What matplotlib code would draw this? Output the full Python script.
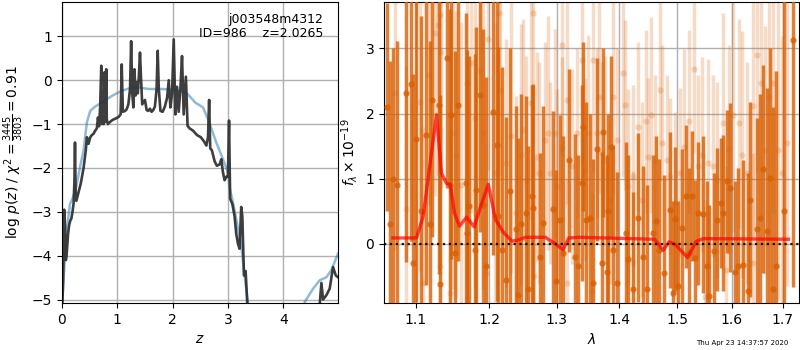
import numpy as np
import matplotlib
matplotlib.use("Agg")
import matplotlib.pyplot as plt
from matplotlib.ticker import FixedLocator, FormatStrFormatter, NullLocator

# ---------------- left panel: p(z) ----------------
z_pz = [0.00, 0.02, 0.04, 0.055, 0.07, 0.085, 0.11, 0.13, 0.15, 0.17,
        0.19, 0.21, 0.225, 0.235, 0.245, 0.26, 0.28, 0.31, 0.34, 0.39,
        0.43, 0.45, 0.48, 0.51, 0.54, 0.57, 0.60, 0.63, 0.65, 0.67,
        0.69, 0.71, 0.725, 0.74, 0.755, 0.77, 0.785, 0.80, 0.81, 0.83,
        0.87, 0.92, 0.96, 1.02, 1.06, 1.08, 1.10, 1.14, 1.17, 1.20,
        1.23, 1.25, 1.27, 1.29, 1.31, 1.33, 1.35, 1.37, 1.39, 1.41,
        1.43, 1.45, 1.50, 1.53, 1.56, 1.59, 1.62, 1.65, 1.68, 1.71,
        1.73, 1.75, 1.78, 1.82, 1.86, 1.90, 1.93, 1.96, 1.99, 2.02,
        2.05, 2.08, 2.11, 2.14, 2.17, 2.20, 2.24, 2.27, 2.31, 2.37,
        2.44, 2.51, 2.57, 2.61, 2.64, 2.66, 2.68, 2.71, 2.76, 2.80,
        2.85, 2.88, 2.91, 2.94, 2.97, 3.00, 3.02, 3.04, 3.08, 3.12,
        3.15, 3.18, 3.21, 3.24, 3.26, 3.29, 3.32, 3.35, 3.40, 3.60,
        4.00, 4.40, 4.60, 4.66, 4.69, 4.72, 4.75, 4.78, 4.84, 4.90,
        4.95, 4.99]
logp = [-5.3, -4.6, -2.95, -3.3, -4.1, -3.95, -3.5, -3.3, -3.2, -3.15,
        -3.0, -2.8, -2.3, -1.42, -2.5, -2.75, -2.65, -2.5, -2.35, -2.0,
        -1.6, -1.3, -1.45, -1.3, -1.25, -1.22, -1.15, -1.1, -0.85, -1.05,
        -0.6, 0.33, -1.0, -0.5, -1.0, 0.18, -0.95, 0.25, -0.9, -1.0,
        -0.95, -0.9, -0.88, -0.84, -0.78, 0.36, -0.72, -0.7, -0.66, -0.55,
        -0.2, 0.89, -0.3, -0.62, 0.25, -0.35, -0.05, -0.3, 0.1, 0.63,
        0.0, -0.55, -0.45, -0.68, -0.7, -0.65, -0.72, -0.68, -0.6, -0.2,
        0.67, -0.2, -0.7, -0.72, -0.6, -0.4, 0.0, -0.62, -0.3, 0.93,
        -0.78, -0.15, -0.72, -0.2, 0.55, -0.78, 0.08, -1.04, -1.1, -1.15,
        -1.25, -1.3, -1.4, -1.49, -1.3, -0.45, -1.55, -1.6, -1.85, -1.95,
        -1.92, -1.8, -2.1, -2.28, -2.2, -2.2, -0.92, -2.7, -2.82, -3.1,
        -3.5, -3.72, -3.84, -2.89, -3.1, -4.45, -4.35, -5.1, -6.0, -8.0,
        -9.0, -7.5, -5.6, -5.1, -4.62, -5.0, -4.95, -4.9, -4.75, -4.26,
        -4.45, -4.49]

z_chi = [0.0, 0.024, 0.084, 0.144, 0.19, 0.25, 0.33, 0.39, 0.45, 0.51,
         0.60, 0.72, 0.90, 1.08, 1.26, 1.41, 1.56, 1.80, 2.05, 2.26,
         2.41, 2.55, 2.64, 2.79, 2.91, 3.00, 3.03, 3.09, 3.15, 3.24,
         3.30, 3.36, 3.5, 3.9, 4.2, 4.39, 4.54, 4.66, 4.78, 4.87, 4.99]
chi_scaled = [-5.2, -4.6, -3.46, -2.82, -2.7, -2.48, -1.95, -1.6, -0.96, -0.7,
              -0.6, -0.51, -0.36, -0.24, -0.17, -0.17, -0.2, -0.2, -0.22, -0.3,
              -0.51, -0.62, -0.89, -1.42, -1.8, -2.1, -2.45, -2.78, -3.16, -3.77,
              -4.45, -5.05, -6.0, -7.0, -6.2, -5.05, -4.75, -4.56, -4.49, -4.33,
              -3.95]

# ---------------- right panel: spectrum ----------------
lam_a = [1.0625, 1.0665, 1.0705,
         1.0759, 1.0870, 1.0944, 1.0965, 1.1009, 1.1074, 1.1140, 1.1184, 1.1220, 1.1309,
         1.1318, 1.1416, 1.1453, 1.1475, 1.1521, 1.1567, 1.1681, 1.1691, 1.1718, 1.1797,
         1.1821, 1.1868, 1.1915, 1.1952, 1.2057, 1.2114, 1.2129, 1.2191, 1.2239, 1.2297,
         1.2385, 1.2420, 1.2469, 1.2543, 1.2568, 1.2618, 1.2643, 1.2743, 1.2793, 1.2946,
         1.2997, 1.3059, 1.3101, 1.3189, 1.3283, 1.3336, 1.3389, 1.3415, 1.3458, 1.3532,
         1.3575, 1.3640, 1.3710, 1.3737, 1.3792, 1.3824, 1.3863, 1.3901, 1.3967, 1.4112,
         1.4151, 1.4235, 1.4308, 1.4405, 1.4462, 1.4565, 1.4623, 1.4669, 1.4768, 1.4868,
         1.4915, 1.4962, 1.5015, 1.5075, 1.5153, 1.5213, 1.5267, 1.5315, 1.5376, 1.5455,
         1.5529, 1.5578, 1.5664, 1.5727, 1.5789, 1.5839, 1.5902, 1.5965, 1.6060, 1.6124,
         1.6220, 1.6316, 1.6348, 1.6478, 1.6543, 1.6596, 1.6675, 1.6741, 1.6807, 1.6860,
         1.7021, 1.7197]
flux_a = [2.1, 0.3, 1.0,
          0.91, 2.32, 2.45, -0.29, 1.61, 0.5, 1.67, 0.31, 2.2, 2.13,
          -0.62, 2.85, 0.91, 1.97, -0.14, 2.13, 0.94, 0.17, 0.58, -0.09,
          0.83, 2.28, 0.6, -0.34, 2.03, 1.52, 0.42, -0.09, -0.55, 0.81,
          0.22, -0.78, 0.3, 0.47, -0.7, 0.73, 0.55, -0.21, 0.32, 0.54,
          -0.57, 0.37, -0.14, 1.28, -0.21, -0.34, 0.93, 1.8, 0.37, 0.4,
          -0.6, 1.45, -0.29, 1.71, -0.44, 0.5, 1.49, -0.09, -0.6, 0.17,
          -0.24, -0.7, 0.4, -0.21, -0.7, 0.17, 0.35, -0.1, -0.45, 0.52,
          -0.75, 0.38, -0.65, 0.25, 0.73, -0.14, 0.73, -0.22, 0.47, 0.45,
          -0.34, -0.8, -0.11, 0.37, 0.63, 0.47, 0.96, 0.86, -0.44, -0.34,
          -0.32, -0.72, 0.68, 0.23, 0.4, 1.15, 0.19, 1.01, -0.7, -0.34,
          0.5, 3.13]
err_a = [1.6, 2.5, 2.0,
         2.2, 2.6, 2.4, 2.9, 2.5, 3.0, 2.3, 2.8, 2.1, 2.6,
         2.9, 2.0, 2.7, 2.2, 3.1, 2.4, 2.6, 2.8, 2.3, 3.0,
         2.5, 2.1, 2.7, 2.9, 2.2, 2.4, 2.6, 2.8, 2.5, 2.2,
         1.9, 2.4, 2.0, 1.8, 2.2, 1.7, 1.9, 1.6, 1.8, 1.5,
         1.7, 1.6, 1.8, 1.4, 1.9, 1.7, 1.5, 1.3, 1.8, 1.6,
         1.9, 1.4, 1.7, 1.3, 1.8, 1.5, 1.4, 1.6, 1.7, 1.4,
         1.6, 1.5, 1.3, 1.4, 1.6, 1.2, 1.3, 1.4, 1.5, 1.2,
         1.4, 1.1, 1.3, 1.2, 1.1, 1.3, 1.0, 1.2, 1.1, 1.2,
         1.3, 1.4, 1.2, 1.1, 1.0, 1.2, 1.1, 1.3, 1.4, 1.5,
         1.6, 1.8, 1.5, 1.7, 1.9, 1.6, 2.2, 2.0, 2.8, 3.0,
         3.5, 3.8]

lam_b = [1.0729, 1.0879, 1.1052, 1.1175, 1.1251, 1.1295, 1.1318, 1.1340, 1.1498, 1.1544,
         1.1612, 1.1691, 1.1751, 1.1797, 1.1868, 1.1915, 1.1986, 1.2081, 1.2143, 1.2162,
         1.2239, 1.2322, 1.2395, 1.2469, 1.2494, 1.2543, 1.2603, 1.2643, 1.2693, 1.2733,
         1.2819, 1.2870, 1.2905, 1.2972, 1.3008, 1.3075, 1.3090, 1.3153, 1.3231, 1.3310,
         1.3389, 1.3442, 1.3495, 1.3575, 1.3629, 1.3667, 1.3710, 1.3765, 1.3846, 1.3890,
         1.3967, 1.4067, 1.4095, 1.4151, 1.4235, 1.4308, 1.4377, 1.4445, 1.4491, 1.4531,
         1.4606, 1.4693, 1.4727, 1.4809, 1.4868, 1.4957, 1.5045, 1.5123, 1.5213, 1.5303,
         1.5376, 1.5437, 1.5560, 1.5640, 1.5727, 1.5839, 1.5952, 1.6028, 1.6143, 1.6194,
         1.6284, 1.6400, 1.6478, 1.6556, 1.6648, 1.6728, 1.6807, 1.6907, 1.6974, 1.7075,
         1.1095, 1.1319, 1.1450, 1.1960, 1.2660, 1.3160, 1.3560, 1.4230, 1.5500, 1.5900,
         1.6400]
flux_b = [2.31, 0.53, 2.18, 2.59, 3.23, 3.36, 3.51, 2.95, 1.70, 1.37,
          0.91, 2.47, 2.77, 1.93, 2.67, 1.70, 3.14, 1.09, 3.54, 2.36,
          1.24, 1.65, 0.47, 1.37, 1.75, 0.98, 2.16, 3.54, 1.34, 1.09,
          1.60, 1.70, 1.09, 1.70, 0.88, 3.05, 1.47, 2.21, 1.19, 1.70,
          2.82, 1.14, 1.70, 2.82, 1.70, 2.26, 1.39, 1.29, 0.68, 2.26,
          1.60, 2.62, 2.13, 0.88, 1.04, 1.80, 0.68, 1.88, 1.34, 1.98,
          1.29, 2.36, 1.55, 1.29, 1.04, 0.63, 1.09, 1.49, 1.88, 2.69,
          1.19, 1.37, 1.24, 1.19, 0.98, 1.85, 1.45, 1.98, 1.85, 1.37,
          1.09, 2.11, 2.90, 2.47, 1.44, 2.26, 2.47, 1.44, 1.09, 1.55,
          -0.60, -0.34, -0.75, -0.45, -0.50, -0.60, -0.72, -0.28, -0.82, -0.40,
          -0.30]
err_b = [2.4, 2.2, 2.6, 2.0, 2.5, 2.3, 2.7, 2.1, 2.4, 2.2,
         2.5, 2.0, 2.3, 2.6, 2.1, 2.4, 2.0, 2.3, 2.5, 2.2,
         1.9, 2.1, 1.8, 2.0, 1.7, 1.9, 1.8, 2.0, 1.6, 1.7,
         1.5, 1.8, 1.4, 1.6, 1.5, 1.7, 1.4, 1.6, 1.5, 1.3,
         1.6, 1.4, 1.5, 1.7, 1.3, 1.5, 1.4, 1.6, 1.3, 1.5,
         1.4, 1.6, 1.3, 1.5, 1.4, 1.3, 1.5, 1.4, 1.2, 1.5,
         1.3, 1.4, 1.5, 1.3, 1.2, 1.4, 1.3, 1.5, 1.4, 1.3,
         1.4, 1.5, 1.6, 1.4, 1.5, 1.7, 1.6, 1.8, 1.6, 1.9,
         1.7, 2.0, 1.8, 2.1, 1.9, 2.2, 2.0, 2.3, 2.1, 2.2,
         2.4, 2.2, 2.5, 2.0, 1.8, 1.6, 1.5, 1.4, 1.5, 1.6,
         1.7]

lam_model = [1.0706, 1.1009, 1.1096, 1.1274, 1.1339, 1.1406, 1.1459, 1.1517, 1.1585, 1.1684,
             1.1789, 1.1881, 1.1987, 1.2091, 1.2209, 1.2330, 1.2427, 1.2525, 1.2826, 1.2980,
             1.3099, 1.3189, 1.3349, 1.4601, 1.4752, 1.4854, 1.4964, 1.5183, 1.5342, 1.5472,
             1.7113]
flux_model = [0.09, 0.09, 0.42, 1.98, 1.09, 0.93, 0.91, 0.47, 0.27, 0.41,
              0.26, 0.58, 0.91, 0.37, 0.17, 0.04, 0.06, 0.10, 0.10, 0.00,
              -0.09, 0.09, 0.10, 0.07, -0.10, 0.03, -0.01, -0.21, 0.04, 0.08,
              0.07]

title_lines = "j003548m4312\nID=986    z=2.0265"
stamp = "Thu Apr 23 14:37:57 2020"
xt_right = [1.1, 1.2, 1.3, 1.4, 1.5, 1.6, 1.7]

plt.rcParams['font.family'] = ['DejaVu Sans']
fig = plt.figure(figsize=(8, 3.5), dpi=100)
ax1 = fig.add_axes([0.0775, 0.134, 0.345, 0.86])
ax2 = fig.add_axes([0.480, 0.134, 0.5185, 0.86])

# left
ax1.plot(z_chi, chi_scaled, color='tab:blue', alpha=0.5, lw=1.8)
ax1.plot(z_pz, logp, color='0.2', alpha=0.95, lw=1.9)
ax1.set_xlim(0, 4.99)
ax1.set_ylim(-5.08, 1.78)
ax1.set_xticks([0, 1, 2, 3, 4])
ax1.set_yticks([-5, -4, -3, -2, -1, 0, 1])
ax1.grid(True, color='#b0b0b0', lw=1.0)
ax1.set_axisbelow(True)
ax1.set_xlabel('$z$', fontsize=10)
ax1.set_ylabel(r'log $p(z)$ / $\chi^2=\frac{3445}{3803}=0.91$', fontsize=10)
ax1.text(0.946, 0.965, title_lines, transform=ax1.transAxes, ha='right', va='top',
         fontsize=9, linespacing=1.15)

# right
ax2.set_xscale('log')
ax2.errorbar(lam_b, flux_b, yerr=err_b, fmt='o', color='#d95f02', alpha=0.22,
             ms=4.5, elinewidth=2.5, capsize=0, mec='none', zorder=2)
ax2.errorbar(lam_a, flux_a, yerr=err_a, fmt='o', color='#d95f02', alpha=0.8,
             ms=4.5, elinewidth=2.5, capsize=0, mec='none', zorder=3)
ax2.plot(lam_model, flux_model, color='red', alpha=0.7, lw=2.4, zorder=5,
         solid_joinstyle='round')
ax2.axhline(0, color='k', ls=':', lw=1.6, alpha=0.9, zorder=6)
ax2.set_xlim(1.0593, 1.7324)
ax2.set_ylim(-0.91, 3.71)
ax2.xaxis.set_major_locator(FixedLocator(xt_right))
ax2.xaxis.set_major_formatter(FormatStrFormatter('%.1f'))
ax2.xaxis.set_minor_locator(NullLocator())
ax2.set_yticks([0, 1, 2, 3])
ax2.grid(True, color='#b0b0b0', lw=1.0)
ax2.set_axisbelow(True)
ax2.set_xlabel(r'$\lambda$', fontsize=10)
ax2.set_ylabel(r'$f_\lambda \times 10^{-19}$', fontsize=10)

fig.text(0.985, 0.02, stamp, ha='right', va='center', fontsize=5)

fig.savefig('out.png', dpi=100)
